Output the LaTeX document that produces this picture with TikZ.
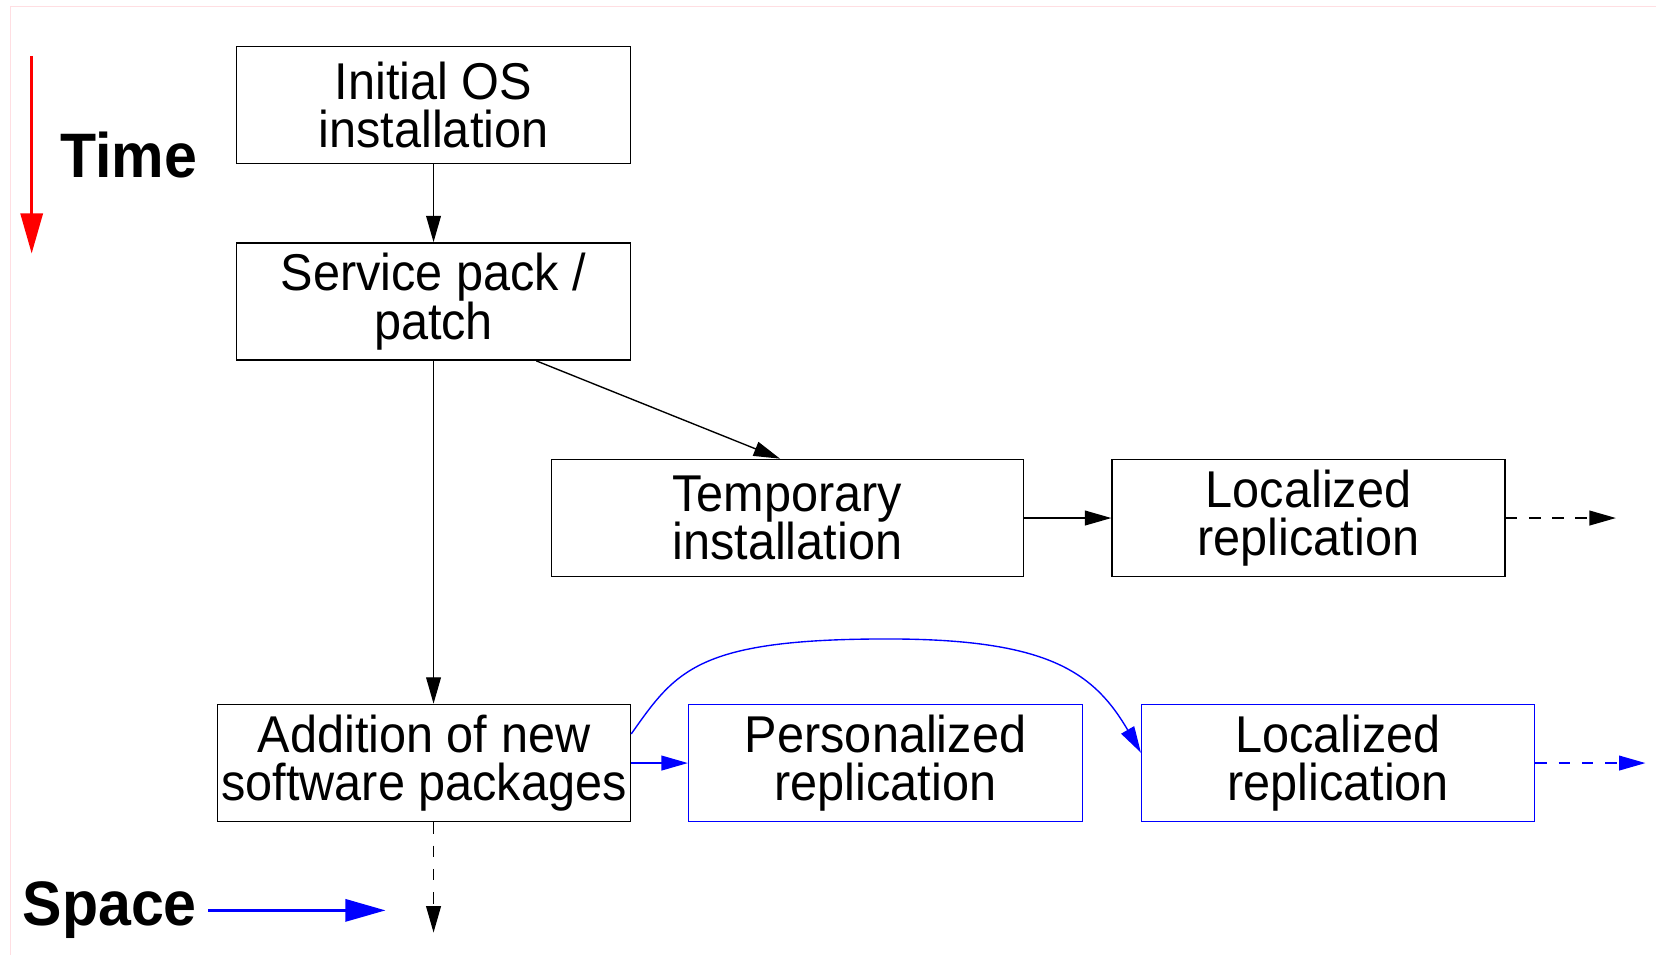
\documentclass[tikz,border=0pt]{standalone}
\usepackage{fontspec}
\setmainfont{Liberation Sans}[FakeStretch=0.94]
\usetikzlibrary{arrows.meta}
\definecolor{framepink}{RGB}{255,222,226}
\begin{document}
\begin{tikzpicture}[x=1pt,y=-1pt,
  box/.style={draw, line width=1.4pt, minimum width=373pt, minimum height=111pt,
    inner sep=0pt, align=center, font=\fontsize{49}{46}\selectfont},
  bluebox/.style={box, draw=blue},
  conn/.style={line width=1.3pt, -{Triangle[length=25pt,width=14pt]}},
  dashconn/.style={conn, dash pattern=on 11pt off 11pt},
  legendarrow/.style={line width=2.6pt, -{Triangle[length=38pt,width=21pt]}},
  legendtext/.style={font=\fontsize{59.5}{64}\selectfont\bfseries, inner sep=0pt}
]
\useasboundingbox (0,0) rectangle (1568,904);
\fill[white] (0,0) rectangle (1568,904);
\draw[framepink, line width=1.2pt] (10,904) -- (10,6.5) -- (1568,6.5);

% nodes
\node[box] (b1) at (410.5,99.5) {Initial OS\\installation};
\node[box] (b2) at (410.5,285.5) {Service pack /\\patch};
\node[box, minimum width=447pt] (b3) at (745.5,490.5) {Temporary\\installation};
\node[box, minimum width=372pt] (b4) at (1239,490.5) {Localized\\replication};
\node[box, minimum width=391pt] (b5) at (401.5,722.5) {Addition of new\\software packages};
\node[bluebox] (b6) at (838.5,722.5) {Personalized\\replication};
\node[bluebox, minimum width=372pt] (b7) at (1267,722.5) {Localized\\replication};

\node[legendtext] (time) at (122,147) {Time};
\node[legendtext] (space) at (104,862) {Space};

\coordinate (t1) at (30,53);
\coordinate (t2) at (30,240);
\coordinate (s1) at (197,862);
\coordinate (s2) at (365,862);
\coordinate (d1) at (1530,490.5);
\coordinate (d2) at (1558,722.5);
\coordinate (d3) at (410.5,883);

% legend arrows
\draw[legendarrow, red] (t1) -- (t2);
\draw[legendarrow, blue] (s1) -- (s2);

% connectors
\draw[conn] (b1.south) -- (b2.north);
\draw[conn] (b2.south) -- (b2.south |- b5.north);
\draw[conn] (b2.-30.4) -- (b3.97.7);
\draw[conn] (b3.east) -- (b4.west);
\draw[dashconn] (b4.east) -- (d1);
\draw[dashconn] (b2.south |- b5.south) -- (d3);
\draw[conn, blue] (b5.east) -- (b6.west);
\draw[conn, blue] (b5.8) .. controls (640,635) and (660,605) .. (840,605)
   .. controls (990,605) and (1035,635) .. (b7.177);
\draw[dashconn, blue] (b7.east) -- (d2);
\end{tikzpicture}
\end{document}
